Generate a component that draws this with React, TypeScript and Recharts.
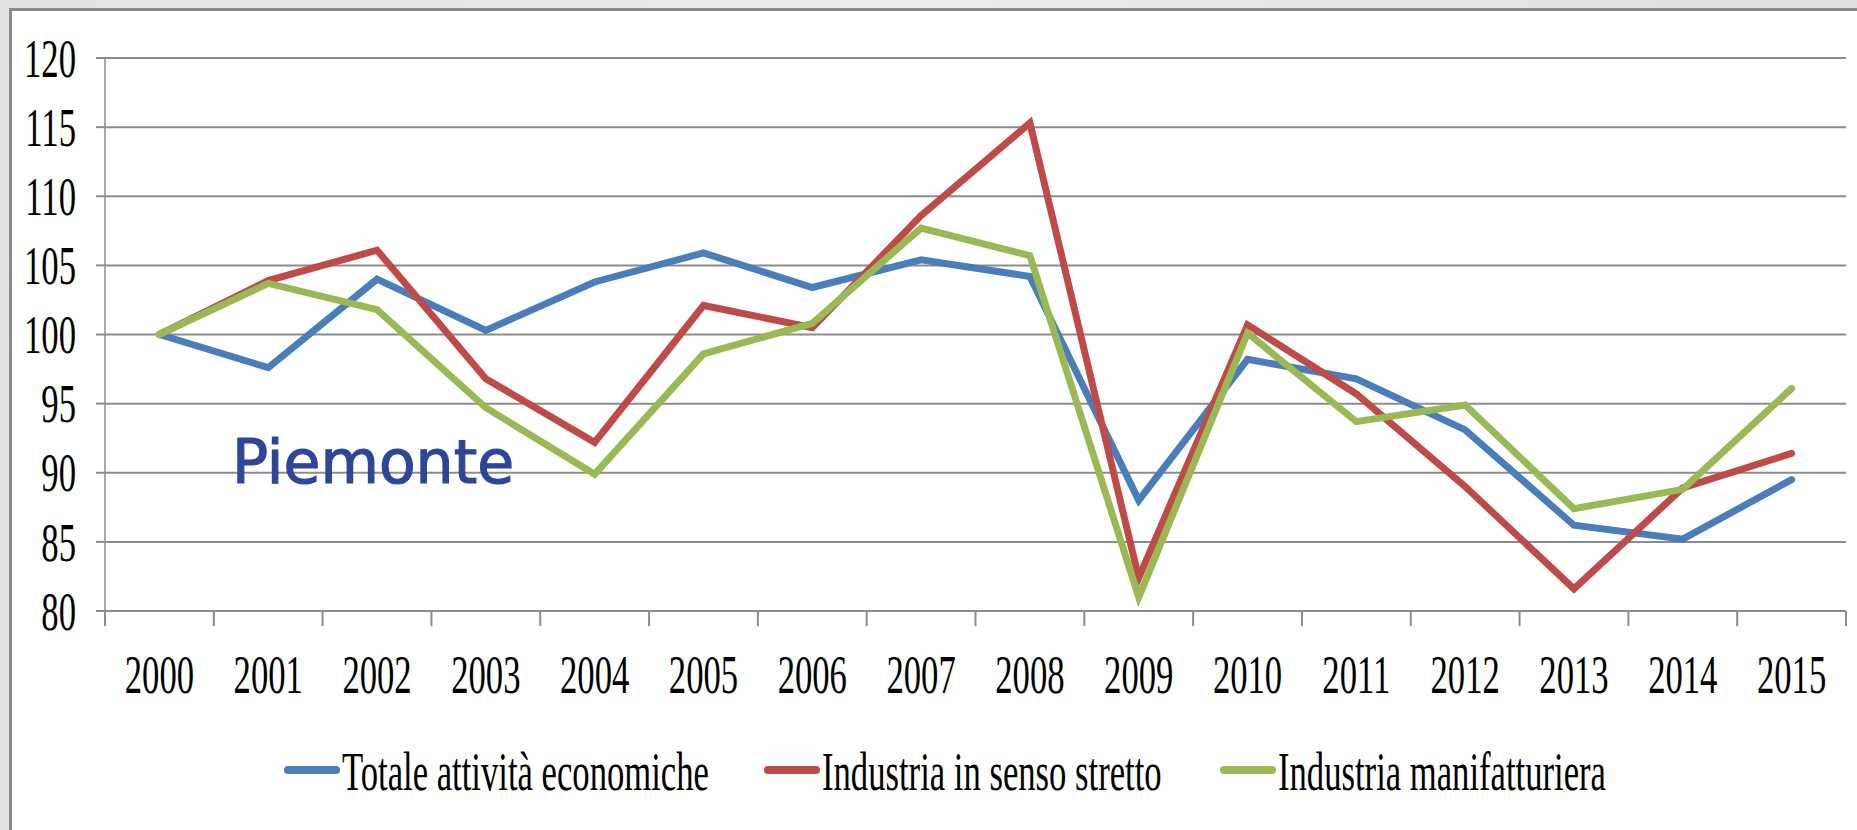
import { LineChart, Line, XAxis, YAxis, CartesianGrid, Legend } from "recharts";

const years = ["2000", "2001", "2002", "2003", "2004", "2005", "2006", "2007", "2008", "2009", "2010", "2011", "2012", "2013", "2014", "2015"];
const totale = [100, 97.6, 104.0, 100.3, 103.8, 105.9, 103.4, 105.4, 104.2, 88.0, 98.2, 96.8, 93.1, 86.2, 85.2, 89.5];
const sensoStretto = [100, 103.9, 106.1, 96.8, 92.2, 102.1, 100.5, 108.6, 115.3, 82.4, 100.7, 95.7, 89.0, 81.6, 88.9, 91.4];
const manifatturiera = [100, 103.7, 101.8, 94.7, 89.9, 98.6, 100.8, 107.7, 105.7, 81.0, 100.1, 93.7, 94.9, 87.4, 88.8, 96.1];
const yTicks = [80, 85, 90, 95, 100, 105, 110, 115, 120];
const seriesNames = ["Totale attività economiche", "Industria in senso stretto", "Industria manifatturiera"];

const data = years.map((y, i) => ({
  year: y,
  totale: totale[i],
  stretto: sensoStretto[i],
  manif: manifatturiera[i],
}));

const SERIF = "'Liberation Serif', 'Times New Roman', serif";
const SQUEEZE = 0.63;
const GRID = "#8c8c8c";

const YTick = ({ x, y, payload }: any) => (
  <g transform={`translate(${x},${y})`}>
    <text transform={`scale(${SQUEEZE},1)`} textAnchor="end" dy="0.34em" fontFamily={SERIF} fontSize={55} fill="#000">
      {payload.value}
    </text>
  </g>
);

const XTick = ({ x, y, payload, index, visibleTicksCount, width }: any) => {
  const half = payload.offset || width / visibleTicksCount / 2;
  const last = index === visibleTicksCount - 1;
  return (
    <g>
      <line x1={x - half} x2={x - half} y1={y} y2={y + 15} stroke={GRID} strokeWidth={2} />
      {last && <line x1={x + half} x2={x + half} y1={y} y2={y + 15} stroke={GRID} strokeWidth={2} />}
      <g transform={`translate(${x},${y + 82})`}>
        <text transform={`scale(${SQUEEZE},1)`} textAnchor="middle" fontFamily={SERIF} fontSize={55} fill="#000">
          {payload.value}
        </text>
      </g>
    </g>
  );
};

const legendX = [288, 768, 1224];

const LegendBox = ({ payload }: any) => {
  const items = [...(payload || [])].sort(
    (a: any, b: any) => seriesNames.indexOf(a.value) - seriesNames.indexOf(b.value)
  );
  return (
    <svg width={1857} height={80}>
      {items.map((p: any, i: number) => (
        <g key={p.value}>
          <line x1={legendX[i]} x2={legendX[i] + 48} y1={40} y2={40} stroke={p.color} strokeWidth={8} strokeLinecap="round" />
          <g transform={`translate(${legendX[i] + 54},60)`}>
            <text transform={`scale(${SQUEEZE},1)`} fontFamily={SERIF} fontSize={55} fill="#000">
              {p.value}
            </text>
          </g>
        </g>
      ))}
    </svg>
  );
};

export default function App() {
  return (
    <div
      style={{
        position: "absolute",
        left: 0,
        top: 0,
        width: 1857,
        height: 830,
        background: "linear-gradient(90deg, #e2e2e2, #ececec 50%, #dedede)",
        overflow: "hidden",
      }}
    >
      <div
        style={{
          position: "absolute",
          left: 9,
          top: 8,
          right: 0,
          bottom: 0,
          background: "#fff",
          borderTop: "3px solid #8a8a8a",
          borderLeft: "3px solid #8a8a8a",
        }}
      />
      <div style={{ position: "absolute", left: 0, top: 0 }}>
        <LineChart width={1857} height={830} data={data} margin={{ top: 58, right: 11, bottom: 0, left: 0 }}>
          <CartesianGrid vertical={false} stroke={GRID} strokeWidth={2} />
          <XAxis
            dataKey="year"
            scale="band"
            height={219}
            axisLine={{ stroke: GRID, strokeWidth: 2 }}
            tickLine={false}
            tickSize={0}
            tickMargin={0}
            interval={0}
            tick={<XTick />}
          />
          <YAxis
            width={105}
            domain={[80, 120]}
            ticks={yTicks}
            interval={0}
            axisLine={{ stroke: GRID, strokeWidth: 1.5 }}
            tickLine={{ stroke: GRID, strokeWidth: 2 }}
            tickSize={9}
            tickMargin={20}
            tick={<YTick />}
          />
          <Legend
            layout="horizontal"
            verticalAlign="middle"
            align="center"
            wrapperStyle={{ top: 730, left: 0, width: 1857 }}
            content={<LegendBox />}
          />
          <Line dataKey="totale" name={seriesNames[0]} stroke="#4a7ebb" strokeWidth={7} strokeLinecap="round" dot={false} isAnimationActive={false} />
          <Line dataKey="stretto" name={seriesNames[1]} stroke="#be4b48" strokeWidth={7} strokeLinecap="round" dot={false} isAnimationActive={false} />
          <Line dataKey="manif" name={seriesNames[2]} stroke="#98b954" strokeWidth={7} strokeLinecap="round" dot={false} isAnimationActive={false} />
        </LineChart>
      </div>
      <svg style={{ position: "absolute", left: 0, top: 0 }} width={1857} height={830} pointerEvents="none">
        <text
          x={232}
          y={483}
          fontFamily="'DejaVu Sans', Verdana, sans-serif"
          fontSize={60}
          fill="#2e4697"
          stroke="#2e4697"
          strokeWidth={1.2}
        >
          Piemonte
        </text>
      </svg>
    </div>
  );
}
